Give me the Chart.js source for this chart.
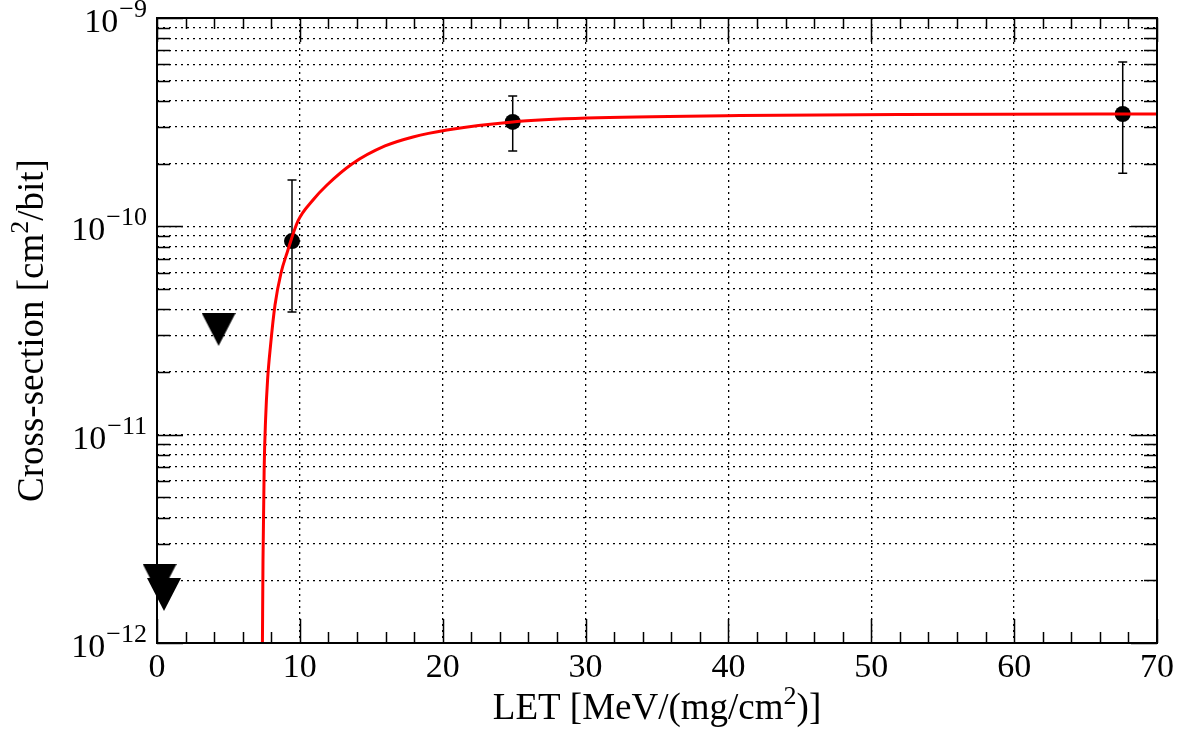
<!DOCTYPE html>
<html>
<head>
<meta charset="utf-8">
<title>Cross-section vs LET</title>
<script src="https://cdn.jsdelivr.net/npm/chart.js@4.4.0/dist/chart.umd.min.js"></script>
<style>
  html, body { margin: 0; padding: 0; background: #fff; }
</style>
</head>
<body>
<canvas id="xsChart" width="1186" height="731"></canvas>
<script>
// measured points (LET, cross-section) with error bars
const letPoints = [9.45, 24.9, 67.6];
const xsPoints = [8.5e-11, 3.17e-10, 3.46e-10];
const xsErrLow = [3.88e-11, 2.30e-10, 1.80e-10];
const xsErrHigh = [1.67e-10, 4.22e-10, 6.15e-10];

// upper limits (down triangles)
const letLimits = [4.31, 0.18, 0.49];
const xsLimits = [3.2e-11, 2.0e-12, 1.71e-12];

// fitted curve
const fitLet = [7.38, 7.42, 7.50, 7.60, 7.74, 7.95, 8.26, 8.68, 9.10, 9.87,
  10.92, 11.90, 13.65, 15.96, 17.92, 20.3, 24.9, 30.1, 40.8, 52, 70];
const fitXs = [1.0e-12, 2.5e-12, 6.77e-12, 1.18e-11, 1.83e-11, 2.69e-11, 4.19e-11, 5.97e-11, 7.45e-11, 1.061e-10,
  1.338e-10, 1.579e-10, 1.992e-10, 2.43e-10, 2.685e-10, 2.90e-10, 3.17e-10, 3.31e-10, 3.40e-10, 3.44e-10, 3.46e-10];

// axes
const xTickValues = [0, 10, 20, 30, 40, 50, 60, 70];
const xTickLabels = ['0', '10', '20', '30', '40', '50', '60', '70'];
const yDecades = [1e-12, 1e-11, 1e-10, 1e-9];
const yDecadeExps = ['\u221212', '\u221211', '\u221210', '\u22129'];
const xTitle = [['LET [MeV/(mg/cm', false], ['2', true], [')]', false]];
const yTitle = [['Cross-section [cm', false], ['2', true], ['/bit]', false]];

const FONT = '"Liberation Serif", "DejaVu Serif", serif';

// ROOT style down triangle marker
function triangleMarker(w, h) {
  const c = document.createElement('canvas');
  c.width = w; c.height = h;
  const g = c.getContext('2d');
  g.fillStyle = '#000';
  g.beginPath();
  g.moveTo(0, 0);
  g.lineTo(w, 0);
  g.lineTo(w / 2, h);
  g.closePath();
  g.fill();
  return c;
}

function drawRichText(ctx, parts, x, y, size) {
  const supSize = Math.round(size * 0.7);
  let total = 0;
  parts.forEach(([t, sup]) => {
    ctx.font = (sup ? supSize : size) + 'px ' + FONT;
    total += ctx.measureText(t).width;
  });
  let cx = x - total / 2;
  ctx.textAlign = 'left';
  parts.forEach(([t, sup]) => {
    ctx.font = (sup ? supSize : size) + 'px ' + FONT;
    ctx.fillText(t, cx, sup ? y - size * 0.4 : y);
    cx += ctx.measureText(t).width;
  });
}

const errorBars = {
  id: 'errorBars',
  beforeDatasetsDraw(chart) {
    const { ctx, scales: { x, y } } = chart;
    ctx.save();
    ctx.strokeStyle = '#000';
    ctx.lineWidth = 1.5;
    letPoints.forEach((v, i) => {
      const px = x.getPixelForValue(v);
      const top = y.getPixelForValue(xsErrHigh[i]);
      const bot = y.getPixelForValue(xsErrLow[i]);
      ctx.beginPath();
      ctx.moveTo(px, top); ctx.lineTo(px, bot);
      ctx.moveTo(px - 4.5, top); ctx.lineTo(px + 4.5, top);
      ctx.moveTo(px - 4.5, bot); ctx.lineTo(px + 4.5, bot);
      ctx.stroke();
    });
    ctx.restore();
  }
};

const frameAxes = {
  id: 'frameAxes',
  afterDraw(chart) {
    const { ctx, chartArea: a, scales: { x, y } } = chart;
    ctx.save();
    ctx.strokeStyle = '#000';
    ctx.fillStyle = '#000';

    // inner tick marks, all four sides
    ctx.lineWidth = 1.5;
    ctx.beginPath();
    for (let v = 0; v <= 70; v += 2) {
      const px = Math.round(x.getPixelForValue(v)) + 0.5;
      const len = v % 10 === 0 ? 24 : 11;
      ctx.moveTo(px, a.bottom); ctx.lineTo(px, a.bottom - len);
      ctx.moveTo(px, a.top); ctx.lineTo(px, a.top + len);
    }
    y.ticks.forEach(t => {
      const py = Math.round(y.getPixelForValue(t.value)) + 0.5;
      const len = yDecades.includes(t.value) ? 26 : 13;
      ctx.moveTo(a.left, py); ctx.lineTo(a.left + len, py);
      ctx.moveTo(a.right, py); ctx.lineTo(a.right - len, py);
    });
    ctx.stroke();

    // frame
    ctx.lineWidth = 2;
    ctx.strokeRect(a.left, a.top, a.right - a.left, a.bottom - a.top);

    // x tick labels
    ctx.font = '34px ' + FONT;
    ctx.textAlign = 'center';
    ctx.textBaseline = 'alphabetic';
    xTickValues.forEach((v, i) => {
      ctx.fillText(xTickLabels[i], x.getPixelForValue(v), a.bottom + 34);
    });

    // y tick labels 10^n
    yDecades.forEach((v, i) => {
      const py = y.getPixelForValue(v);
      ctx.font = '26px ' + FONT;
      const supW = ctx.measureText(yDecadeExps[i]).width;
      const startSup = a.left - 10 - supW;
      ctx.textAlign = 'left';
      ctx.fillText(yDecadeExps[i], startSup, py - 1);
      ctx.font = '34px ' + FONT;
      ctx.textAlign = 'right';
      ctx.fillText('10', startSup - 1, py + 14);
    });

    // axis titles
    drawRichText(ctx, xTitle, (a.left + a.right) / 2, 719, 37);
    ctx.save();
    ctx.translate(43, (a.top + a.bottom) / 2);
    ctx.rotate(-Math.PI / 2);
    drawRichText(ctx, yTitle, 0, 0, 37);
    ctx.restore();

    ctx.restore();
  }
};

const ctx = document.getElementById('xsChart').getContext('2d');

new Chart(ctx, {
  type: 'scatter',
  data: {
    datasets: [
      {
        label: 'fit',
        type: 'line',
        data: fitLet.map((v, i) => ({ x: v, y: fitXs[i] })),
        borderColor: '#ff0000',
        borderWidth: 3,
        pointRadius: 0,
        fill: false,
        cubicInterpolationMode: 'monotone',
        order: 0
      },
      {
        label: 'data',
        data: letPoints.map((v, i) => ({ x: v, y: xsPoints[i] })),
        pointRadius: 8,
        pointBackgroundColor: '#000',
        pointBorderColor: '#000',
        pointBorderWidth: 0,
        order: 1
      },
      {
        label: 'upper limits',
        data: letLimits.map((v, i) => ({ x: v, y: xsLimits[i] })),
        pointStyle: triangleMarker(34, 33),
        pointRadius: 17,
        clip: false,
        order: 2
      }
    ]
  },
  options: {
    responsive: false,
    animation: false,
    devicePixelRatio: 1,
    layout: { padding: { left: 157, right: 29, top: 18, bottom: 88 } },
    plugins: {
      legend: { display: false },
      tooltip: { enabled: false }
    },
    scales: {
      x: {
        type: 'linear',
        min: 0,
        max: 70,
        ticks: { display: false, stepSize: 10 },
        grid: { color: '#000', lineWidth: 1.3, drawTicks: false },
        border: { display: false, dash: [2, 4] }
      },
      y: {
        type: 'logarithmic',
        min: 1e-12,
        max: 1e-9,
        afterBuildTicks(scale) {
          const ticks = [];
          yDecades.forEach(d => {
            for (let m = 1; m <= 9; m++) {
              if (d * m <= 1e-9 * 1.0001) ticks.push({ value: d * m });
            }
          });
          scale.ticks = ticks;
        },
        ticks: { display: false },
        grid: { color: '#000', lineWidth: 1.3, drawTicks: false },
        border: { display: false, dash: [2, 4] }
      }
    }
  },
  plugins: [errorBars, frameAxes]
});
</script>
</body>
</html>
